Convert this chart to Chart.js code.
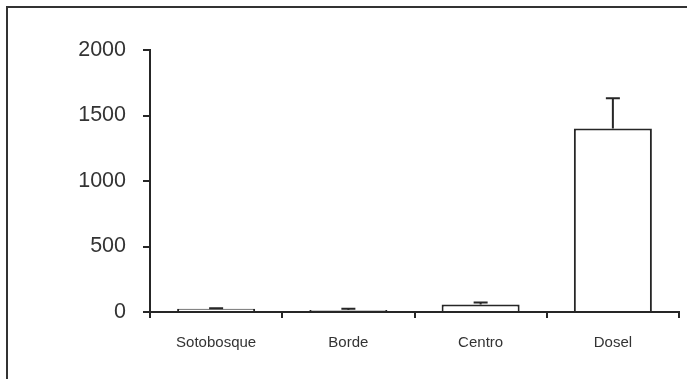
<!DOCTYPE html>
<html>
<head>
<meta charset="utf-8">
<script src="https://cdn.jsdelivr.net/npm/chart.js@4.4.0/dist/chart.umd.min.js"></script>
<style>
  html, body { margin: 0; padding: 0; background: #fff; }
  #wrap { position: relative; width: 687px; height: 379px; }
  #frame { position: absolute; left: 6px; top: 6px; right: 0; bottom: 0;
           border-top: 2px solid #333; border-left: 2px solid #333; pointer-events: none; }
  canvas { position: absolute; left: 0; top: 0; }
</style>
</head>
<body>
<div id="wrap">
  <canvas id="myChart" width="687" height="379"></canvas>
  <div id="frame"></div>
</div>
<script>
'use strict';

// data
let categories = ['Sotobosque', 'Borde', 'Centro', 'Dosel'];
let means = [25, 15, 58, 1400];
let upperErrors = [28, 25, 72, 1632];
let yTicks = [0, 500, 1000, 1500, 2000];

const lineColor = '#262626';

// draws the upper error bars using the chart's own scales
const errorBars = {
  id: 'errorBars',
  afterDatasetsDraw(chart) {
    const ctx = chart.ctx;
    const meta = chart.getDatasetMeta(0);
    const y = chart.scales.y;
    ctx.save();
    ctx.strokeStyle = lineColor;
    ctx.lineWidth = 2;
    meta.data.forEach((bar, i) => {
      const top = y.getPixelForValue(upperErrors[i]);
      const base = y.getPixelForValue(means[i]);
      ctx.beginPath();
      ctx.moveTo(bar.x, base);
      ctx.lineTo(bar.x, top);
      ctx.moveTo(bar.x - 7, top);
      ctx.lineTo(bar.x + 7, top);
      ctx.stroke();
    });
    ctx.restore();
  }
};

const ctx = document.getElementById('myChart');
new Chart(ctx, {
  type: 'bar',
  data: {
    labels: categories,
    datasets: [{
      data: means,
      backgroundColor: '#ffffff',
      borderColor: lineColor,
      borderWidth: 2,
      barPercentage: 0.59,
      categoryPercentage: 1
    }]
  },
  options: {
    responsive: false,
    animation: false,
    layout: { padding: { top: 50, right: 8, left: 0, bottom: 0 } },
    plugins: { legend: { display: false }, tooltip: { enabled: false } },
    scales: {
      x: {
        grid: { display: true, drawOnChartArea: false, drawTicks: true, tickLength: 6,
                color: lineColor, lineWidth: 2, offset: true },
        border: { display: true, color: lineColor, width: 2 },
        ticks: { color: '#333', padding: 16, font: { family: 'Liberation Sans, Arial', size: 15 } },
        afterFit(scale) { scale.height = 67; }
      },
      y: {
        min: 0,
        max: 2000,
        afterBuildTicks(scale) { scale.ticks = yTicks.map(v => ({ value: v })); },
        grid: { display: true, drawOnChartArea: false, drawTicks: true, tickLength: 7,
                color: lineColor, lineWidth: 2 },
        border: { display: true, color: lineColor, width: 2 },
        ticks: { color: '#333', padding: 17, font: { family: 'Liberation Sans, Arial', size: 21.5 },
                 callback: (value) => String(value) },
        afterFit(scale) { scale.width = 150; }
      }
    }
  },
  plugins: [errorBars]
});
</script>
</body>
</html>
